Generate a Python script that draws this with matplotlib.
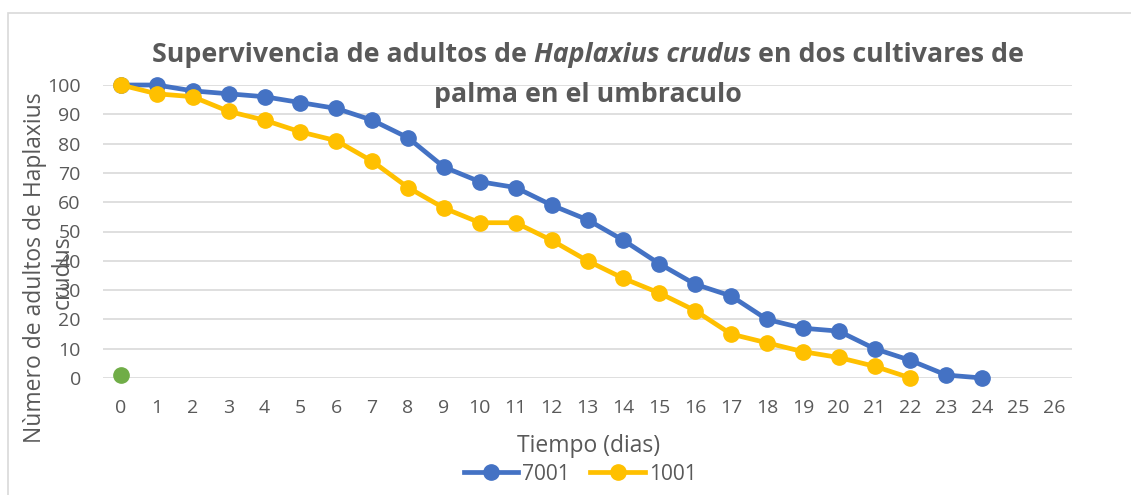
import matplotlib
matplotlib.use("Agg")
import matplotlib.pyplot as plt
from matplotlib.lines import Line2D
from matplotlib.patches import Rectangle

days = list(range(27))
tick_labels = [str(d) for d in days]
blue_days = list(range(25))
blue_vals = [100, 100, 98, 97, 96, 94, 92, 88, 82, 72, 67, 65, 59, 54, 47, 39, 32, 28, 20, 17, 16, 10, 6, 1, 0]
yellow_days = list(range(23))
yellow_vals = [100, 97, 96, 91, 88, 84, 81, 74, 65, 58, 53, 53, 47, 40, 34, 29, 23, 15, 12, 9, 7, 4, 0]
green_days = [0]
green_vals = [1]
series_names = ["7001", "1001"]

FONT = "Open Sans"
GRAY = "#595959"
BLUE = "#4472C4"
YELLOW = "#FFC000"
GREEN = "#70AD47"

plt.rcParams['font.family'] = [FONT, 'DejaVu Sans']

W, H = 1131, 495
fig = plt.figure(figsize=(W / 100, H / 100), dpi=100)

# chart border
fig.patches.append(Rectangle((8 / W, -0.1), 1.2, 1 - 13 / H + 0.1, transform=fig.transFigure,
                             fill=False, edgecolor="#D9D9D9", linewidth=1.2))

ax = fig.add_axes([103 / W, 1 - 378 / H, 969 / W, 293 / H])
ax.set_xlim(-0.5, 26.5)
ax.set_ylim(0, 100)
ax.set_yticks(range(0, 101, 10))
ax.set_xticks(days)
ax.set_xticklabels(tick_labels)
ax.grid(axis="y", color="#D9D9D9", linewidth=1.2)
ax.set_axisbelow(True)
for s in ax.spines.values():
    s.set_visible(False)
ax.tick_params(length=0, labelsize=14, labelcolor=GRAY)
ax.tick_params(axis="y", pad=16)
ax.tick_params(axis="x", pad=15)

ax.plot(blue_days, blue_vals, color=BLUE, lw=3.4, marker="o", ms=11, clip_on=False, zorder=3)
ax.plot(yellow_days, yellow_vals, color=YELLOW, lw=3.4, marker="o", ms=11, clip_on=False, zorder=4)
ax.plot(green_days, green_vals, color=GREEN, lw=0, marker="o", ms=11, clip_on=False, zorder=5)

# axis labels
fig.text(35 / W, 1 - 268 / H, "Nùmero de adultos de Haplaxius", rotation=90, ha="center", va="center",
         fontsize=16.5, color=GRAY)
fig.text(63 / W, 1 - 272 / H, "crudus", rotation=90, ha="center", va="center",
         fontsize=16.5, color=GRAY)
fig.text(589 / W, 1 - 446 / H, "Tiempo (dias)", ha="center", va="center", fontsize=16.5, color=GRAY)

# legend
handles = [Line2D([], [], color=BLUE, lw=3.4, marker="o", ms=11),
           Line2D([], [], color=YELLOW, lw=3.4, marker="o", ms=11)]
fig.legend(handles, series_names, loc="center", bbox_to_anchor=(580 / W, 1 - 474 / H), ncol=2,
           frameon=False, fontsize=15, labelcolor=GRAY, handlelength=2.6, handletextpad=0.2,
           columnspacing=1.0, borderpad=0)

# title with italic part
fig.canvas.draw()
renderer = fig.canvas.get_renderer()
parts = [("Supervivencia de adultos de ", "normal"), ("Haplaxius crudus", "italic"),
         (" en dos cultivares de", "normal")]
tsize = 19.3
texts = []
for s, st in parts:
    t = fig.text(0, 1 - 55 / H, s, fontsize=tsize, fontweight="bold", style=st, color=GRAY,
                 ha="left", va="center")
    texts.append(t)
widths = [t.get_window_extent(renderer).width for t in texts]
total = sum(widths)
x = 588 - total / 2
for t, w in zip(texts, widths):
    t.set_x(x / W)
    x += w
fig.text(588 / W, 1 - 95 / H, "palma en el umbraculo", fontsize=tsize, fontweight="bold",
         color=GRAY, ha="center", va="center")

fig.savefig("out.png", dpi=100)
